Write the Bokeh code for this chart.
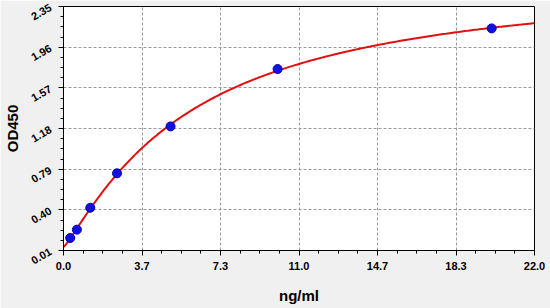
import math
import numpy as np
from bokeh.plotting import figure
from bokeh.models import Range1d, FixedTicker, Label
from bokeh.embed import file_html
from bokeh.resources import INLINE

# data
conc = [0.3125, 0.625, 1.25, 2.5, 5.0, 10.0, 20.0]
od = [0.13, 0.21, 0.42, 0.75, 1.20, 1.75, 2.14]

x_ticks = [0.0, 22 / 6, 22 / 3, 11.0, 44 / 3, 55 / 3, 22.0]
x_labels = ["0.0", "3.7", "7.3", "11.0", "14.7", "18.3", "22.0"]
y_ticks = [0.01, 0.40, 0.79, 1.18, 1.57, 1.96, 2.35]
y_labels = ["0.01", "0.40", "0.79", "1.18", "1.57", "1.96", "2.35"]

# four-parameter logistic fit of the standards (grid search, linear in a, d)
xs = np.array(conc)
ys = np.array(od)
best = None
for b in np.linspace(0.5, 3.0, 251):
    for c in np.exp(np.linspace(np.log(0.5), np.log(80), 400)):
        g = 1.0 / (1.0 + (xs / c) ** b)
        A = np.column_stack([g, 1 - g])
        coef, *_ = np.linalg.lstsq(A, ys, rcond=None)
        err = np.sum((A @ coef - ys) ** 2)
        if best is None or err < best[0]:
            best = (err, b, c, coef[0], coef[1])
_, fb, fc, fa, fd = best
cx = np.linspace(0, 22, 300)
cy = fd + (fa - fd) / (1.0 + (cx / fc) ** fb)

p = figure(width=550, height=308, output_backend="svg", toolbar_location=None,
           x_range=Range1d(0, 22), y_range=Range1d(0.01, 2.35),
           min_border_left=63, min_border_right=16, min_border_top=6, min_border_bottom=58)
p.border_fill_color = "#f0f0f0"
p.background_fill_color = "white"
p.outline_line_color = "black"
p.outline_line_width = 1

font = "Liberation Sans"
for ax, ticks, labels in ((p.xaxis[0], x_ticks, x_labels), (p.yaxis[0], y_ticks, y_labels)):
    minors = []
    for i in range(len(ticks) - 1):
        step = (ticks[i + 1] - ticks[i]) / 4
        minors += [ticks[i] + k * step for k in range(1, 4)]
    ax.ticker = FixedTicker(ticks=ticks, minor_ticks=minors)
    ax.major_label_overrides = {t: l for t, l in zip(ticks, labels)}
    ax.major_label_text_font = font
    ax.major_label_text_font_style = "bold"
    ax.major_label_text_font_size = "11px"
    ax.major_label_text_color = "black"
    ax.axis_line_color = "black"
    ax.major_tick_line_color = "black"
    ax.minor_tick_line_color = "black"
    ax.major_tick_out = 5
    ax.major_tick_in = 0
    ax.minor_tick_out = 3
    ax.minor_tick_in = 0
    ax.axis_label_text_font = font
    ax.axis_label_text_font_style = "bold"
    ax.axis_label_text_font_size = "15px"
    ax.axis_label_text_color = "black"
p.xaxis[0].major_label_standoff = 6
p.yaxis[0].major_label_standoff = 8
p.yaxis[0].major_label_orientation = math.pi / 6
p.xaxis[0].axis_label = "ng/ml"
p.xaxis[0].axis_label_standoff = 14
p.yaxis[0].axis_label = "OD450"
p.yaxis[0].axis_label_standoff = 4

for g in (p.xgrid[0], p.ygrid[0]):
    g.grid_line_color = "#999999"
    g.grid_line_dash = "3 2"
    g.grid_line_width = 1
p.xgrid[0].ticker = FixedTicker(ticks=x_ticks[1:-1])
p.ygrid[0].ticker = FixedTicker(ticks=y_ticks[1:-1])

p.line(cx, cy, line_color="#e01010", line_width=2)
p.scatter(conc, od, size=9, fill_color="#1010e0", line_color="#0000b0")

open("out.html", "w").write(file_html(p, INLINE))
